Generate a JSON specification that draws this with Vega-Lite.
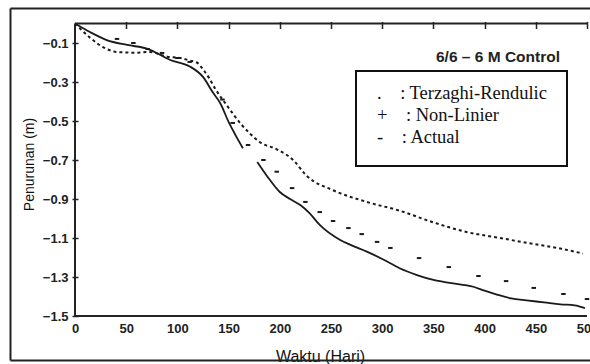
{
  "$schema": "https://vega.github.io/schema/vega-lite/v6.json",
  "width": 580,
  "height": 352,
  "autosize": {"type": "none"},
  "padding": {"left": 10, "top": 8, "right": 0, "bottom": 4},
  "background": "white",
  "config": {
    "view": {"stroke": null},
    "font": "Liberation Sans",
    "axis": {"grid": false, "domainColor": "#222", "tickColor": "#222", "labelColor": "#222", "titleColor": "#111"}
  },
  "title": {
    "text": "6/6 \u2013 6 M Control",
    "anchor": "end",
    "orient": "top",
    "frame": "group",
    "offset": 0,
    "dx": -30,
    "dy": 64,
    "baseline": "middle",
    "font": "Liberation Sans",
    "fontSize": 15.5,
    "fontWeight": "bold",
    "color": "#222"
  },
  "datasets": {
    "curves": [
      {"series": "Actual", "part": "a", "day": 0, "settlement": 0},
      {"series": "Actual", "part": "a", "day": 15, "settlement": -0.045},
      {"series": "Actual", "part": "a", "day": 31, "settlement": -0.085},
      {"series": "Actual", "part": "a", "day": 51, "settlement": -0.11},
      {"series": "Actual", "part": "a", "day": 71, "settlement": -0.13},
      {"series": "Actual", "part": "a", "day": 93, "settlement": -0.187},
      {"series": "Actual", "part": "a", "day": 112, "settlement": -0.22},
      {"series": "Actual", "part": "a", "day": 125, "settlement": -0.274},
      {"series": "Actual", "part": "a", "day": 135, "settlement": -0.357},
      {"series": "Actual", "part": "a", "day": 142, "settlement": -0.41},
      {"series": "Actual", "part": "a", "day": 150, "settlement": -0.505},
      {"series": "Actual", "part": "a", "day": 157, "settlement": -0.575},
      {"series": "Actual", "part": "a", "day": 164, "settlement": -0.64},
      {"series": "Actual", "part": "b", "day": 178, "settlement": -0.71},
      {"series": "Actual", "part": "b", "day": 190, "settlement": -0.8},
      {"series": "Actual", "part": "b", "day": 200, "settlement": -0.864},
      {"series": "Actual", "part": "b", "day": 210, "settlement": -0.9},
      {"series": "Actual", "part": "b", "day": 220, "settlement": -0.931},
      {"series": "Actual", "part": "b", "day": 229, "settlement": -0.972},
      {"series": "Actual", "part": "b", "day": 239, "settlement": -1.033},
      {"series": "Actual", "part": "b", "day": 259, "settlement": -1.11},
      {"series": "Actual", "part": "b", "day": 269, "settlement": -1.135},
      {"series": "Actual", "part": "b", "day": 285, "settlement": -1.17},
      {"series": "Actual", "part": "b", "day": 301, "settlement": -1.21},
      {"series": "Actual", "part": "b", "day": 317, "settlement": -1.255},
      {"series": "Actual", "part": "b", "day": 334, "settlement": -1.29},
      {"series": "Actual", "part": "b", "day": 350, "settlement": -1.315},
      {"series": "Actual", "part": "b", "day": 366, "settlement": -1.33},
      {"series": "Actual", "part": "b", "day": 389, "settlement": -1.35},
      {"series": "Actual", "part": "b", "day": 400, "settlement": -1.37},
      {"series": "Actual", "part": "b", "day": 412, "settlement": -1.39},
      {"series": "Actual", "part": "b", "day": 426, "settlement": -1.41},
      {"series": "Actual", "part": "b", "day": 441, "settlement": -1.42},
      {"series": "Actual", "part": "b", "day": 458, "settlement": -1.43},
      {"series": "Actual", "part": "b", "day": 474, "settlement": -1.44},
      {"series": "Actual", "part": "b", "day": 488, "settlement": -1.445},
      {"series": "Actual", "part": "b", "day": 498, "settlement": -1.46},
      {"series": "Terzaghi-Rendulic", "day": 0, "settlement": 0},
      {"series": "Terzaghi-Rendulic", "day": 15, "settlement": -0.074},
      {"series": "Terzaghi-Rendulic", "day": 27, "settlement": -0.12},
      {"series": "Terzaghi-Rendulic", "day": 41, "settlement": -0.146},
      {"series": "Terzaghi-Rendulic", "day": 60, "settlement": -0.15},
      {"series": "Terzaghi-Rendulic", "day": 73, "settlement": -0.146},
      {"series": "Terzaghi-Rendulic", "day": 90, "settlement": -0.17},
      {"series": "Terzaghi-Rendulic", "day": 103, "settlement": -0.177},
      {"series": "Terzaghi-Rendulic", "day": 112, "settlement": -0.19},
      {"series": "Terzaghi-Rendulic", "day": 119, "settlement": -0.2},
      {"series": "Terzaghi-Rendulic", "day": 125, "settlement": -0.235},
      {"series": "Terzaghi-Rendulic", "day": 131, "settlement": -0.28},
      {"series": "Terzaghi-Rendulic", "day": 137, "settlement": -0.335},
      {"series": "Terzaghi-Rendulic", "day": 149, "settlement": -0.425},
      {"series": "Terzaghi-Rendulic", "day": 162, "settlement": -0.515},
      {"series": "Terzaghi-Rendulic", "day": 170, "settlement": -0.56},
      {"series": "Terzaghi-Rendulic", "day": 181, "settlement": -0.61},
      {"series": "Terzaghi-Rendulic", "day": 197, "settlement": -0.645},
      {"series": "Terzaghi-Rendulic", "day": 213, "settlement": -0.7},
      {"series": "Terzaghi-Rendulic", "day": 226, "settlement": -0.78},
      {"series": "Terzaghi-Rendulic", "day": 252, "settlement": -0.855},
      {"series": "Terzaghi-Rendulic", "day": 285, "settlement": -0.915},
      {"series": "Terzaghi-Rendulic", "day": 317, "settlement": -0.96},
      {"series": "Terzaghi-Rendulic", "day": 350, "settlement": -1.02},
      {"series": "Terzaghi-Rendulic", "day": 383, "settlement": -1.07},
      {"series": "Terzaghi-Rendulic", "day": 415, "settlement": -1.1},
      {"series": "Terzaghi-Rendulic", "day": 447, "settlement": -1.13},
      {"series": "Terzaghi-Rendulic", "day": 475, "settlement": -1.155},
      {"series": "Terzaghi-Rendulic", "day": 496, "settlement": -1.18},
      {"series": "Non-Linier", "day": 41, "settlement": -0.079},
      {"series": "Non-Linier", "day": 57, "settlement": -0.1},
      {"series": "Non-Linier", "day": 71, "settlement": -0.131},
      {"series": "Non-Linier", "day": 85, "settlement": -0.151},
      {"series": "Non-Linier", "day": 100, "settlement": -0.177},
      {"series": "Non-Linier", "day": 112, "settlement": -0.197},
      {"series": "Non-Linier", "day": 144, "settlement": -0.39},
      {"series": "Non-Linier", "day": 154, "settlement": -0.51},
      {"series": "Non-Linier", "day": 169, "settlement": -0.623},
      {"series": "Non-Linier", "day": 184, "settlement": -0.7},
      {"series": "Non-Linier", "day": 197, "settlement": -0.76},
      {"series": "Non-Linier", "day": 212, "settlement": -0.844},
      {"series": "Non-Linier", "day": 225, "settlement": -0.915},
      {"series": "Non-Linier", "day": 239, "settlement": -0.967},
      {"series": "Non-Linier", "day": 252, "settlement": -1.013},
      {"series": "Non-Linier", "day": 267, "settlement": -1.049},
      {"series": "Non-Linier", "day": 280, "settlement": -1.08},
      {"series": "Non-Linier", "day": 295, "settlement": -1.12},
      {"series": "Non-Linier", "day": 308, "settlement": -1.151},
      {"series": "Non-Linier", "day": 336, "settlement": -1.203},
      {"series": "Non-Linier", "day": 365, "settlement": -1.249},
      {"series": "Non-Linier", "day": 394, "settlement": -1.295},
      {"series": "Non-Linier", "day": 421, "settlement": -1.321},
      {"series": "Non-Linier", "day": 448, "settlement": -1.356},
      {"series": "Non-Linier", "day": 477, "settlement": -1.387},
      {"series": "Non-Linier", "day": 500, "settlement": -1.413}
    ],
    "axislines": [
      {"xa": 0, "xb": 0, "ya": 0, "yb": -1.5},
      {"xa": 0, "xb": 500, "ya": 0, "yb": 0},
      {"xa": 0, "xb": 500, "ya": -1.5, "yb": -1.5}
    ]
  },
  "resolve": {"axis": {"x": "independent", "y": "independent"}},
  "layer": [
    {
      "data": {"name": "curves"},
      "transform": [{"filter": "datum.series == 'Actual'"}],
      "mark": {"type": "line", "strokeWidth": 1.8, "interpolate": "monotone"},
      "encoding": {
        "x": {
          "field": "day", "type": "quantitative",
          "scale": {"domain": [-63.48, 502.93], "nice": false, "zero": false},
          "axis": {
            "orient": "bottom", "offset": -44, "domain": false, "ticks": false, "tickSize": 0,
            "values": [0, 50, 100, 150, 200, 250, 300, 350, 400, 450, 500],
            "labelFont": "Liberation Sans", "labelFontSize": 13, "labelFontWeight": "bold", "labelPadding": 6,
            "title": "Waktu (Hari)", "titleFont": "Liberation Sans", "titleFontSize": 16, "titleFontWeight": "normal",
            "titleX": 310, "titleY": 45, "titleAlign": "center", "titleBaseline": "alphabetic"
          }
        },
        "y": {
          "field": "settlement", "type": "quantitative",
          "scale": {"domain": [-1.7256, 0.0795], "nice": false, "zero": false},
          "axis": {
            "orient": "left", "offset": -68, "domain": false, "ticks": true, "tickSize": 6, "tickWidth": 1.5,
            "values": [-0.1, -0.3, -0.5, -0.7, -0.9, -1.1, -1.3, -1.5], "format": ".1f",
            "labelFont": "Liberation Sans", "labelFontSize": 13, "labelFontWeight": "bold", "labelPadding": 4,
            "title": "Penurunan (m)", "titleFont": "Liberation Sans", "titleFontSize": 14, "titleFontWeight": "normal",
            "titleAngle": -90, "titleX": -49, "titleY": 156, "titleAlign": "center", "titleBaseline": "middle"
          }
        },
        "color": {
          "field": "series", "type": "nominal",
          "scale": {"domain": ["Terzaghi-Rendulic", "Non-Linier", "Actual"], "range": ["#1a1a1a", "#1a1a1a", "#1a1a1a"]},
          "legend": {
            "orient": "none", "legendX": 346, "legendY": 63, "title": null,
            "strokeColor": "#111", "fillColor": "white", "padding": 19,
            "symbolOpacity": 0, "symbolSize": 0, "labelOffset": -16.5,
            "rowPadding": 3, "labelBaseline": "alphabetic",
            "labelFont": "Liberation Serif", "labelFontSize": 18.5, "labelColor": "#111", "labelLimit": 400,
            "labelExpr": "datum.label == 'Terzaghi-Rendulic' ? '.\u00a0\u00a0\u00a0\u00a0: Terzaghi-Rendulic\u00a0\u00a0\u00a0' : datum.label == 'Non-Linier' ? '+\u00a0\u00a0\u00a0\u00a0: Non-Linier' : '-\u00a0\u00a0\u00a0\u00a0: Actual'",
            "encode": {"legend": {"update": {"strokeWidth": {"value": 2}}}}
          }
        },
        "detail": {"field": "part", "type": "nominal"}
      }
    },
    {
      "data": {"name": "curves"},
      "transform": [{"filter": "datum.series == 'Terzaghi-Rendulic'"}],
      "mark": {"type": "line", "strokeWidth": 2, "strokeDash": [3, 3], "interpolate": "monotone"},
      "encoding": {
        "x": {
          "field": "day", "type": "quantitative",
          "scale": {"domain": [-63.48, 502.93], "nice": false, "zero": false},
          "axis": {
            "orient": "top", "offset": -20.5, "domain": false, "labels": false, "ticks": true,
            "tickSize": 7, "tickWidth": 1.5, "values": [50, 100, 150, 200, 250, 300, 350, 400, 450, 500], "title": null
          }
        },
        "y": {
          "field": "settlement", "type": "quantitative",
          "scale": {"domain": [-1.7256, 0.0795], "nice": false, "zero": false},
          "axis": {"orient": "left", "offset": 0, "domain": true, "domainWidth": 2, "ticks": false, "labels": false, "title": null}
        },
        "color": {"field": "series", "type": "nominal"}
      }
    },
    {
      "data": {"name": "curves"},
      "transform": [{"filter": "datum.series == 'Non-Linier'"}],
      "mark": {"type": "point", "filled": true, "opacity": 1, "size": 20, "shape": "M-1,-0.45H1V0.45H-1Z"},
      "encoding": {
        "x": {
          "field": "day", "type": "quantitative",
          "scale": {"domain": [-63.48, 502.93], "nice": false, "zero": false},
          "axis": {"orient": "bottom", "offset": 0, "domain": true, "domainWidth": 2, "ticks": false, "labels": false, "title": null}
        },
        "y": {
          "field": "settlement", "type": "quantitative",
          "scale": {"domain": [-1.7256, 0.0795], "nice": false, "zero": false},
          "axis": null
        },
        "color": {"field": "series", "type": "nominal"}
      }
    },
    {
      "data": {"name": "axislines"},
      "mark": {"type": "rule", "strokeWidth": 2, "color": "#222"},
      "encoding": {
        "x": {
          "field": "xa", "type": "quantitative",
          "scale": {"domain": [-63.48, 502.93], "nice": false, "zero": false},
          "axis": {"orient": "top", "offset": 0, "domain": true, "domainWidth": 2, "ticks": false, "labels": false, "title": null}
        },
        "x2": {"field": "xb"},
        "y": {
          "field": "ya", "type": "quantitative",
          "scale": {"domain": [-1.7256, 0.0795], "nice": false, "zero": false},
          "axis": null
        },
        "y2": {"field": "yb"}
      }
    }
  ]
}
